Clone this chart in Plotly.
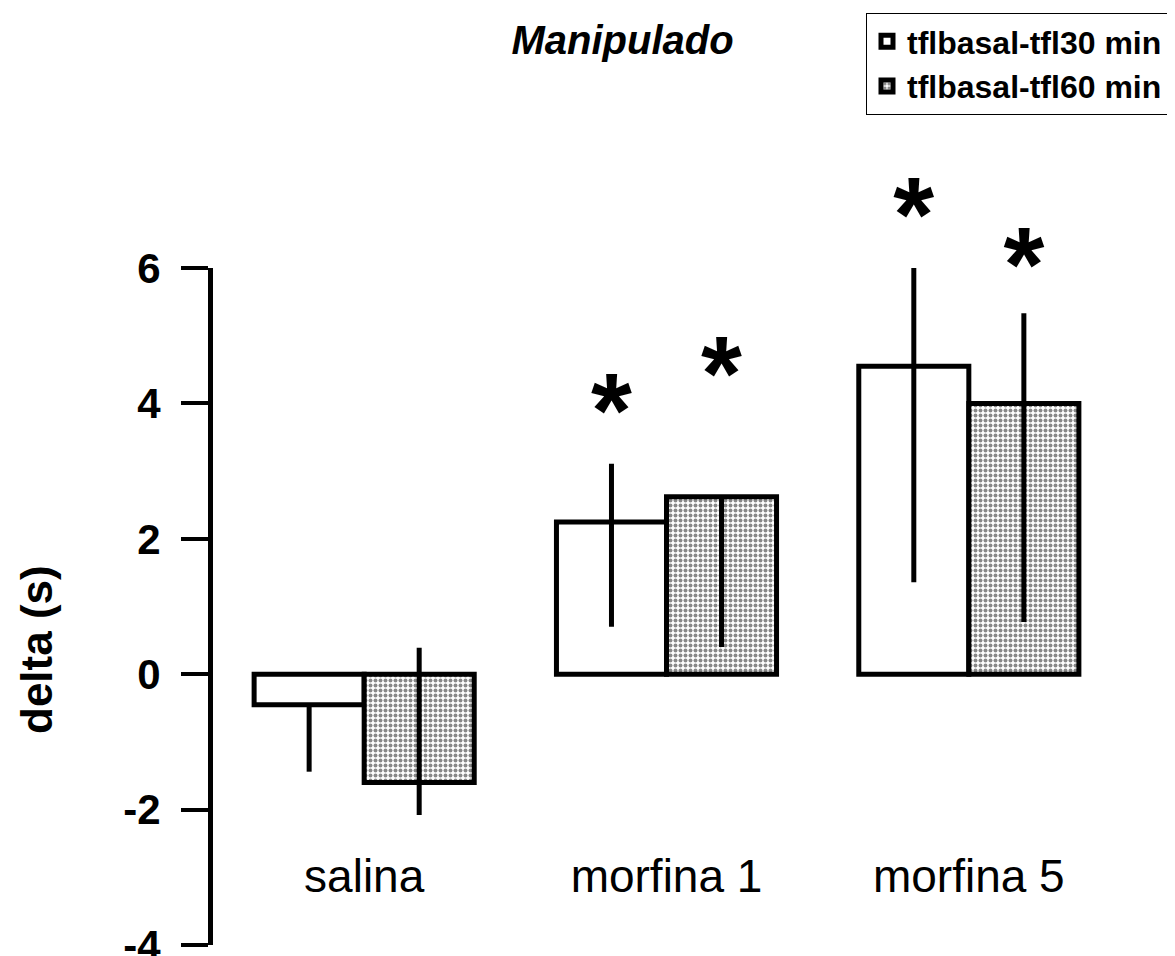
import plotly.graph_objects as go
import numpy as np

categories = ["salina", "morfina 1", "morfina 5"]
series_names = ["tflbasal-tfl30 min", "tflbasal-tfl60 min"]

vals_30 = [-0.45, 2.25, 4.55]
err_up_30 = [0.0, 0.86, 1.45]
err_dn_30 = [0.99, 1.55, 3.19]

vals_60 = [-1.6, 2.62, 4.0]
err_up_60 = [1.99, 0.0, 1.33]
err_dn_60 = [0.48, 2.22, 3.23]

stars_30 = [None, 4.1, 7.0]
stars_60 = [None, 4.64, 6.25]

y_ticks = [-4, -2, 0, 2, 4, 6]
y_ticktext = ["-4", "-2", "0", "2", "4", "6"]
y_range = [-4, 6]

FONT = "Arial, 'Liberation Sans', sans-serif"
pos = np.arange(len(categories))
bw = 0.364

# ---- pixel geometry (styling only; page has an 8px body offset) ----
W, H = 1175, 956
OFF = 8
ml, mr, mt, mb = 213 - OFF, 55 + OFF, 100, 11 + OFF
y_top_px = 268 - OFF                # where the top of the visible y axis sits
pw = W - ml - mr
ph = H - mt - mb
dom_top = (H - mb - y_top_px) / ph  # domain of visible y axis
px_per_unit = dom_top * ph / (y_range[1] - y_range[0])
y2_range = [y_range[0], y_range[0] + (y_range[1] - y_range[0]) / dom_top]
star_size = 105
star_dy = 24 / px_per_unit          # asterisk glyph sits above text centre


def px_x(px):
    return (px - OFF - ml) / pw


def px_y(py):
    return (H - mb - (py - OFF)) / ph


fig = go.Figure()
fig.add_trace(go.Bar(
    x=pos, y=vals_30, width=bw, offset=-bw, name=series_names[0],
    marker=dict(color="white", line=dict(color="black", width=5)),
    error_y=dict(type="data", symmetric=False, array=err_up_30, arrayminus=err_dn_30,
                 color="black", thickness=5, width=0),
))
fig.add_trace(go.Bar(
    x=pos, y=vals_60, width=bw, offset=0, name=series_names[1],
    marker=dict(color="white", line=dict(color="black", width=5),
                pattern=dict(shape=".", fgcolor="#111111", bgcolor="white", size=5, solidity=0.5)),
    error_y=dict(type="data", symmetric=False, array=err_up_60, arrayminus=err_dn_60,
                 color="black", thickness=5, width=0),
))

for stars, off in ((stars_30, -bw / 2), (stars_60, bw / 2)):
    xs = [p + off for p, s in zip(pos, stars) if s is not None]
    ys = [s - star_dy for s in stars if s is not None]
    fig.add_trace(go.Scatter(
        x=xs, y=ys, yaxis="y2", mode="text", text=["*"] * len(xs), textposition="middle center",
        textfont=dict(family=FONT, size=star_size, color="black", weight="bold"),
        cliponaxis=False, showlegend=False, hoverinfo="skip",
    ))

annotations = [dict(x=px_x(36), y=px_y(650), xref="paper", yref="paper", text="delta (s)",
                    textangle=-90, showarrow=False, xanchor="center", yanchor="middle",
                    font=dict(family=FONT, size=44, color="black", weight="bold"))]

fig.update_layout(
    width=W, height=H,
    margin=dict(l=ml, r=mr, t=mt, b=mb, autoexpand=False),
    paper_bgcolor="white", plot_bgcolor="rgba(0,0,0,0)",
    showlegend=True,
    title=dict(text="<i>Manipulado</i>", x=0.523, y=0.958 + OFF / H,
               xanchor="center", yanchor="middle",
               font=dict(family=FONT, size=40, color="black", weight="bold")),
    legend=dict(x=px_x(866), y=px_y(13), xanchor="left", yanchor="top",
                bordercolor="black", borderwidth=1,
                font=dict(family=FONT, size=32, color="black", weight="bold"), bgcolor="white",
                traceorder="normal", itemclick=False, tracegroupgap=0),
    xaxis=dict(range=[-0.5, 2.5], tickvals=pos, ticktext=categories, showgrid=False, zeroline=False,
               showline=False, ticks="", anchor="free", position=px_y(845),
               tickfont=dict(family=FONT, size=46, color="black")),
    yaxis=dict(range=y_range, domain=[0, dom_top], tickvals=y_ticks, ticktext=y_ticktext,
               showgrid=False, zeroline=False,
               showline=True, linecolor="black", linewidth=5, ticks="outside", ticklen=27, tickwidth=4,
               tickcolor="black", ticklabelstandoff=12, ticklabeloverflow="allow",
               tickfont=dict(family=FONT, size=42, color="black", weight="bold")),
    yaxis2=dict(range=y2_range, domain=[0, 1], anchor="x", visible=False, showgrid=False,
                zeroline=False),
    annotations=annotations,
)

fig.write_html("out.html")
